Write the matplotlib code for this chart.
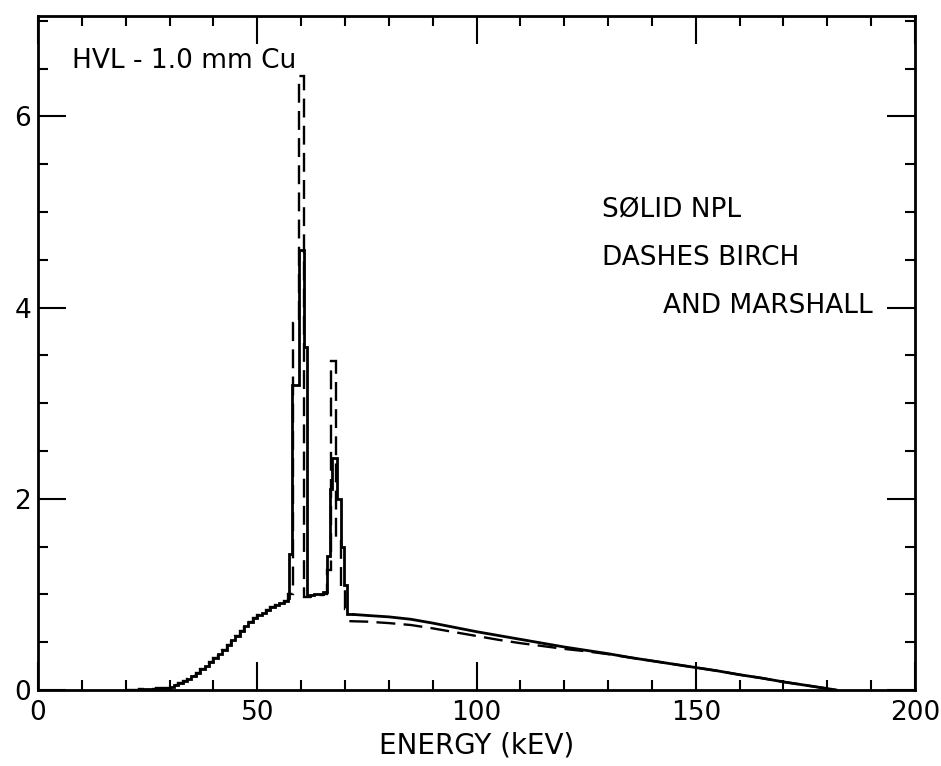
import numpy as np
import matplotlib
matplotlib.use("Agg")
import matplotlib.pyplot as plt
from matplotlib.ticker import MultipleLocator

# ---------------- data ----------------
# NPL spectrum (solid): 1 keV bins for the low-energy continuum
npl_low_edges = list(range(20, 58))
npl_low = [0.0, 0.0, 0.005, 0.01, 0.01, 0.015, 0.015, 0.02, 0.02, 0.025,
           0.035, 0.05, 0.07, 0.095, 0.12, 0.15, 0.18, 0.215, 0.25, 0.29,
           0.33, 0.375, 0.42, 0.47, 0.52, 0.57, 0.62, 0.665, 0.71, 0.75,
           0.78, 0.81, 0.84, 0.865, 0.89, 0.91, 0.93]
# NPL characteristic-line region (bin right edges after 57 keV)
npl_peak_edges = [57.3, 57.9, 59.5, 60.6, 61.3, 62, 63, 64, 65, 65.8,
                  66.5, 67.0, 68.2, 69.0, 69.7, 70.5, 72]
npl_peak = [0.96, 1.42, 3.19, 4.6, 3.59, 0.98, 0.99, 1.0, 1.0, 1.02,
            1.4, 2.1, 2.43, 2.0, 1.5, 1.1, 0.80]
# NPL high-energy continuum
npl_hi_e = [72, 75, 80, 85, 90, 95, 100, 105, 110, 115, 120, 125, 130,
            135, 140, 145, 150, 155, 160, 165, 170, 175, 180, 182]
npl_hi = [0.79, 0.78, 0.765, 0.74, 0.70, 0.655, 0.61, 0.57, 0.53, 0.49,
          0.45, 0.415, 0.38, 0.34, 0.305, 0.27, 0.235, 0.20, 0.16, 0.125,
          0.085, 0.05, 0.015, 0.0]

# Birch and Marshall spectrum (dashed)
bm_low_edges = list(range(20, 58))
bm_low = [0.0, 0.0, 0.005, 0.01, 0.01, 0.015, 0.015, 0.02, 0.02, 0.025,
          0.035, 0.05, 0.07, 0.095, 0.12, 0.15, 0.18, 0.215, 0.25, 0.29,
          0.33, 0.375, 0.42, 0.47, 0.52, 0.57, 0.62, 0.665, 0.71, 0.75,
          0.78, 0.81, 0.84, 0.865, 0.89, 0.91, 0.93]
bm_peak_edges = [58.1, 59.5, 60.6, 62, 63, 64, 65, 65.8, 66.8, 68.0,
                 69.0, 70.0, 71.0]
bm_peak = [1.0, 3.84, 6.42, 0.97, 0.98, 0.99, 0.99, 1.0, 1.25, 3.44,
           1.6, 1.05, 0.85]
bm_hi_e = [71, 75, 80, 85, 90, 95, 100, 105, 110, 115, 120, 125, 130,
           135, 140, 145, 150, 155, 160, 165, 170, 175, 180, 182]
bm_hi = [0.72, 0.715, 0.70, 0.68, 0.645, 0.605, 0.565, 0.525, 0.49, 0.46,
         0.43, 0.405, 0.375, 0.34, 0.305, 0.27, 0.235, 0.20, 0.16, 0.125,
         0.085, 0.05, 0.015, 0.0]

x_ticks = [0, 50, 100, 150, 200]
y_ticks = [0, 2, 4, 6]
x_label = "ENERGY (kEV)"
title_text = "HVL - 1.0 mm Cu"
legend_lines = ["SØLID NPL", "DASHES BIRCH", "AND MARSHALL"]

# ---------------- figure ----------------
plt.rcParams['font.family'] = ['DejaVu Sans']
fig = plt.figure(figsize=(9.41, 7.66), dpi=100)
ax = fig.add_axes([0.0404, 0.0992, 0.932, 0.880])

lw = 2.0
ax.stairs(npl_low + npl_peak, npl_low_edges + npl_peak_edges,
          color='black', linewidth=lw, baseline=None)
ax.plot(npl_hi_e, npl_hi, color='black', linewidth=lw)

dash = (0, (8, 3.5))
ax.stairs(bm_low + bm_peak, bm_low_edges + bm_peak_edges,
          color='black', linewidth=1.7, linestyle=dash, baseline=None)
ax.plot(bm_hi_e, bm_hi, color='black', linewidth=1.7, linestyle=dash)

ax.set_xlim(0, 200)
ax.set_ylim(0, 7.05)
ax.set_xticks(x_ticks)
ax.set_yticks(y_ticks)
ax.xaxis.set_minor_locator(MultipleLocator(10))
ax.yaxis.set_minor_locator(MultipleLocator(0.5))
ax.tick_params(which='both', direction='in', top=True, right=True,
               width=1.5, colors='black')
ax.tick_params(which='major', length=20, labelsize=19)
ax.tick_params(which='minor', length=7)
ax.tick_params(axis='x', which='major', pad=7)
ax.tick_params(axis='y', which='major', pad=5)
for s in ax.spines.values():
    s.set_linewidth(2.0)

ax.set_xlabel(x_label, fontsize=20, labelpad=4)

ax.text(7.75, 6.58, title_text, fontsize=19, va='center', ha='left')
ax.text(128.6, 5.02, legend_lines[0], fontsize=19, va='center', ha='left')
ax.text(128.6, 4.52, legend_lines[1], fontsize=19, va='center', ha='left')
ax.text(142.5, 4.02, legend_lines[2], fontsize=19, va='center', ha='left')

fig.savefig("out.png", dpi=100)
